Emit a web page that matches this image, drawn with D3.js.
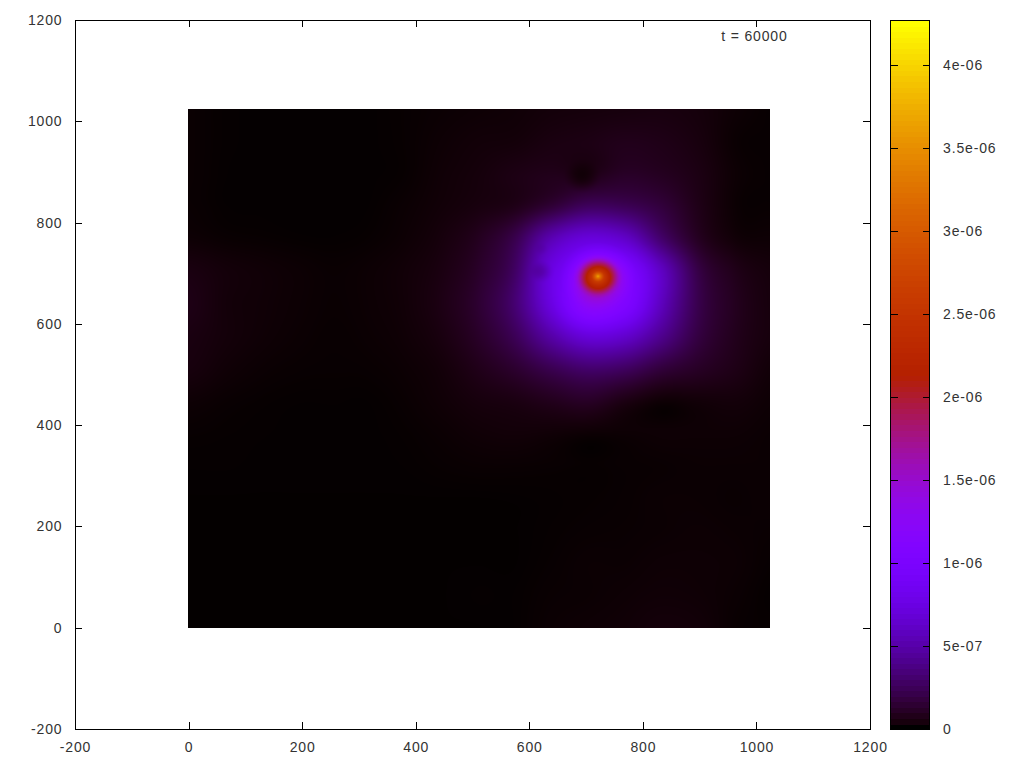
<!DOCTYPE html>
<html><head><meta charset="utf-8">
<script src="https://cdnjs.cloudflare.com/ajax/libs/d3/7.8.5/d3.min.js"></script>
<style>html,body{margin:0;padding:0;background:#fff}svg{display:block}
text{font-family:"Liberation Sans",Arial,sans-serif;font-size:14px;fill:#333}</style>
</head><body><svg id="c" width="1024" height="768"></svg>
<script>
// axis values
const xTicks = [-200,0,200,400,600,800,1000,1200];
const yTicks = [-200,0,200,400,600,800,1000,1200];
const cbTicks = [0,5e-7,1e-6,1.5e-6,2e-6,2.5e-6,3e-6,3.5e-6,4e-6];
const cbLabels = ["0","5e-07","1e-06","1.5e-06","2e-06","2.5e-06","3e-06","3.5e-06","4e-06"];
const cbMax = 4.27e-6;
const annotation = "t = 60000";
// field samples, in thousandths of cbMax
const gridX = [0,64,128,192,256,320,384,448,512,576,640,704,768,832,896,960,1024];
const gridY = [1024,960,896,832,768,704,640,576,512,448,384,320,256,192,128,64,0];
const r00 = [1.5,.6,.4,.4,.4,.4,1,2,3,4,6,7,8,9,7,3,1];
const r01 = [1.5,.6,.4,.4,.4,.4,1,3,5,6,10,12,16,14,9,2,1];
const r02 = [1.5,.5,.4,.4,.4,.4,1,4,7,12,16,14,24,20,12,3,1];
const r03 = [1.5,.5,.4,.4,.4,.5,2,5,9,15,35,60,55,38,15,2.5,1.2];
const r04 = [3,1.5,1,.6,.5,1,3,8,20,50,125,165,145,70,22,5,3];
const r05 = [10,6,4,2.5,1.5,2.5,5,11,27,65,175,240,240,140,46,16,7];
const r06 = [13,6,4,2.5,1.5,2.5,5,13,32,75,175,290,250,135,50,20,8];
const r07 = [10,6,3.5,2,1.2,2,4,10,26,56,115,165,150,95,42,18,8];
const r08 = [8,4,2,1.2,1,1.2,2.5,6,16,30,52,70,62,38,24,14,5];
const r09 = [3,1.5,.8,.5,.5,.5,1.5,4,8,11,18,24,12,3.5,5,6,3];
const r10 = [1,.7,.5,.4,.4,.4,.8,2,4,5,4,2.5,2.5,3,3,3,2];
const r11 = [.5,.5,.4,.4,.4,.4,.5,1,1.5,1.5,1.2,.8,1.2,1.5,2,2,2];
const r12 = [.3,.3,.3,.3,.3,.3,.3,.3,.3,.4,.6,.8,1.2,2,2,1.5,2];
const r13 = [.3,.3,.3,.3,.3,.3,.3,.3,.3,.3,.7,1.2,1.5,2,2.5,2,1.5];
const r14 = [.3,.3,.3,.3,.3,.3,.3,.3,.3,.3,1,2,2,3,3,2.5,1];
const r15 = [.3,.3,.3,.3,.3,.3,.3,.3,.5,.5,1.5,2,3,4,3.5,2,.5];
const r16 = [.3,.3,.3,.3,.3,.3,.3,.3,.3,.5,2,3,4,6,5,1.5,.8];
const gridRows = [r00,r01,r02,r03,r04,r05,r06,r07,r08,r09,r10,r11,r12,r13,r14,r15,r16];
// narrow central peak at (peakX, peakY): excess over the grid by distance
const peakX = 721, peakY = 694;
const peakDist = [0,3,6,11,19,26,30,37,44,56,67];
const peakExcess = [600,520,450,340,260,200,160,90,45,15,0];
// small dark notches in the glow
const dipX = [622,693,622];
const dipY = [703,892,748];
const dipRadius = [24,36,14];
const dipDepth = [.2,.7,.06];

const svg = d3.select("#c");
const x = d3.scaleLinear().domain([-200,1200]).range([75,870]);
const y = d3.scaleLinear().domain([-200,1200]).range([729,20]);
const cbY = d3.scaleLinear().domain([0,cbMax]).range([729.5,20.5]);
const palette = t => { // gnuplot default pm3d palette
  const c = v => Math.round(255*Math.max(0,Math.min(1,v)));
  return `rgb(${c(Math.sqrt(t))},${c(t*t*t)},${c(Math.sin(2*Math.PI*t))})`;
};
const color = d3.scaleSequential(palette).domain([0,1000]).clamp(true);

// cubic through samples for the smooth pm3d look
function cr(a,b,c,d,t){return .5*(2*b+(c-a)*t+(2*a-5*b+4*c-d)*t*t+(3*b-a-3*c+d)*t*t*t);}
function sample(arr,u){
  const n=arr.length-1,i=Math.max(0,Math.min(n-1,Math.floor(u))),t=u-i;
  return cr(arr[Math.max(0,i-1)],arr[i],arr[i+1],arr[Math.min(n,i+2)],t);
}
const peak = d3.scaleLinear().domain(peakDist).range(peakExcess).clamp(true);
const gu = d3.scaleLinear().domain(d3.extent(gridX)).range([0,gridX.length-1]);
const gv = d3.scaleLinear().domain([gridY[0],gridY[gridY.length-1]]).range([0,gridY.length-1]);

const px0=Math.floor(x(0)), px1=Math.round(x(1024)), py0=Math.round(y(1024)), py1=Math.round(y(0));
const W=px1-px0,H=py1-py0;
const cv=document.createElement("canvas");cv.width=W;cv.height=H;
const ctx=cv.getContext("2d");const img=ctx.createImageData(W,H);
for(let j=0;j<H;j++){
  const dy=y.invert(py0+j+.5), v=gv(Math.max(0,Math.min(1024,dy)));
  const col=gridX.map((_,k)=>sample(gridRows.map(r=>r[k]),v));
  for(let i=0;i<W;i++){
    const dx=x.invert(px0+i+.5);
    let f=Math.max(.2,sample(col,gu(Math.max(0,Math.min(1024,dx)))));
    dipX.forEach((q,k)=>{
      const d=Math.hypot(dx-q,dy-dipY[k])/dipRadius[k];
      if(d<1)f*=1-dipDepth[k]*(1-d*d)*(1-d*d);
    });
    f+=peak(Math.hypot(dx-peakX,dy-peakY));
    const t=Math.min(1,f/1000);
    const o=(j*W+i)*4;
    img.data[o]=255*Math.sqrt(t);img.data[o+1]=255*t*t*t;
    img.data[o+2]=255*Math.max(0,Math.sin(2*Math.PI*t));img.data[o+3]=255;
  }
}
ctx.putImageData(img,0,0);
svg.append("image").attr("x",px0).attr("y",py0).attr("width",W).attr("height",H)
   .attr("href",cv.toDataURL());

// frame and axes
const spacing="0.85px";
function axis(gen,tr,labels){
  const g=svg.append("g").attr("transform",tr).call(gen);
  g.selectAll("line").attr("stroke","#000").attr("shape-rendering","crispEdges");
  g.select(".domain").attr("stroke","#000").attr("shape-rendering","crispEdges");
  g.selectAll("text").attr("font-family",null).attr("font-size",null).style("letter-spacing",spacing);
  if(!labels) g.selectAll("text").remove();
  return g;
}
const fmt=d=>String(d);
axis(d3.axisBottom(x).tickValues(xTicks).tickFormat(fmt).tickSizeInner(-7).tickSizeOuter(0).tickPadding(13),"translate(0,729)",true);
axis(d3.axisTop(x).tickValues(xTicks).tickSizeInner(-7).tickSizeOuter(0),"translate(0,20)",false);
axis(d3.axisLeft(y).tickValues(yTicks).tickFormat(fmt).tickSizeInner(-7).tickSizeOuter(0).tickPadding(12.5),"translate(75,0)",true);
axis(d3.axisRight(y).tickValues(yTicks).tickSizeInner(-7).tickSizeOuter(0),"translate(870,0)",false);

svg.append("text").attr("x",x(938)).attr("y",41).style("letter-spacing",spacing).text(annotation);

// colour bar
const bands=d3.range(128);
const band=d3.scaleBand().domain(bands).range([0,cbMax]);
svg.append("g").selectAll("rect").data(bands).join("rect")
  .attr("x",890.5).attr("width",39)
  .attr("y",d=>cbY(band(d)+band.bandwidth()))
  .attr("height",d=>cbY(band(d))-cbY(band(d)+band.bandwidth())+.6)
  .attr("fill",d=>color(1000*d/127)).attr("shape-rendering","crispEdges");
svg.append("rect").attr("x",890.5).attr("y",20.5).attr("width",39).attr("height",709)
  .attr("fill","none").attr("stroke","#000").attr("shape-rendering","crispEdges");
const cbG=svg.append("g").selectAll("g").data(cbTicks).join("g");
cbG.filter(d=>d>0).append("line").attr("x1",890.5).attr("x2",897.5).attr("y1",d=>cbY(d)).attr("y2",d=>cbY(d))
  .attr("stroke","#000").attr("shape-rendering","crispEdges");
cbG.filter(d=>d>0).append("line").attr("x1",922.5).attr("x2",929.5).attr("y1",d=>cbY(d)).attr("y2",d=>cbY(d))
  .attr("stroke","#000").attr("shape-rendering","crispEdges");
cbG.append("text").attr("x",943).attr("y",d=>cbY(d)-0.5).attr("dy","0.36em").style("letter-spacing",spacing)
  .text((d,i)=>cbLabels[i]);
</script></body></html>
